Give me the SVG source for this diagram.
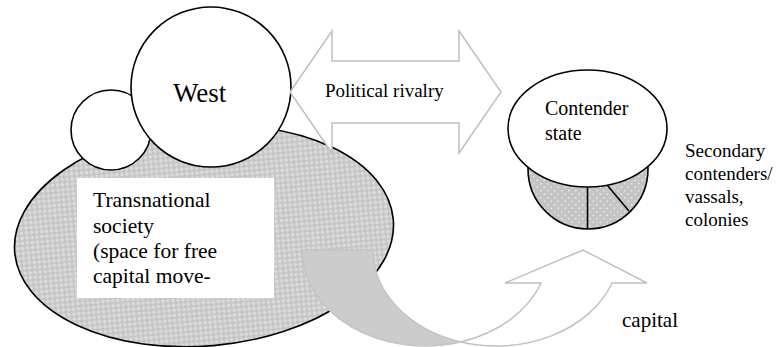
<svg xmlns="http://www.w3.org/2000/svg" width="778" height="347" viewBox="0 0 778 347">
  <defs>
    <pattern id="hatch" width="5" height="5" patternUnits="userSpaceOnUse">
      <rect width="5" height="5" fill="#c6c6c6"/>
      <path d="M2.5,0.6 L4.4,2.5 L2.5,4.4 L0.6,2.5 Z" fill="#e4e4e4"/>
      <circle cx="2.5" cy="2.5" r="0.5" fill="#c6c6c6"/>
    </pattern>
    <pattern id="dots" width="7" height="7" patternUnits="userSpaceOnUse">
      <rect width="7" height="7" fill="#c4c4c4"/>
      <circle cx="1.75" cy="1.75" r="0.8" fill="#f2f2f2"/>
      <circle cx="5.25" cy="5.25" r="0.8" fill="#f2f2f2"/>
    </pattern>
  </defs>
  <style>
    .blk { stroke: #000; stroke-width: 1.6; }
    .gline { stroke: #c0c0c0; stroke-width: 1.5; fill: #fff; stroke-linejoin: miter; }
    .txt { font-family: 'Liberation Serif', 'Times New Roman', serif; fill: #000; }
  </style>

  <g id="transnational-society">
    <ellipse cx="204" cy="236" rx="190" ry="110" transform="rotate(-5 204 236)" fill="url(#hatch)" class="blk" stroke-width="2"/>
  </g>

  <g id="small-circle">
    <circle cx="111" cy="130" r="40" fill="#fff" class="blk"/>
  </g>

  <g id="west">
    <circle cx="211" cy="87" r="80" fill="#fff" class="blk"/>
    <text class="txt" x="173" y="102" font-size="27">West</text>
  </g>

  <g id="society-label">
    <rect x="77" y="178" width="197" height="120" fill="#fff"/>
    <text class="txt" font-size="21.5">
      <tspan x="93" y="207">Transnational</tspan>
      <tspan x="93" y="233">society</tspan>
      <tspan x="93" y="258">(space for free</tspan>
      <tspan x="93" y="283">capital move-</tspan>
    </text>
  </g>

  <g id="contender">
    <circle cx="588" cy="169" r="60" fill="url(#dots)" class="blk"/>
    <line x1="587.5" y1="186" x2="587.5" y2="229" class="blk"/>
    <line x1="607" y1="185" x2="629" y2="211" class="blk"/>
    <ellipse cx="587.5" cy="128.5" rx="79.5" ry="58.5" fill="#fff" class="blk"/>
    <text class="txt" font-size="20">
      <tspan x="545" y="115">Contender</tspan>
      <tspan x="545" y="140">state</tspan>
    </text>
  </g>

  <g id="secondary-label">
    <text class="txt" font-size="19">
      <tspan x="685" y="157">Secondary</tspan>
      <tspan x="685" y="180">contenders/</tspan>
      <tspan x="685" y="203">vassals,</tspan>
      <tspan x="685" y="226">colonies</tspan>
    </text>
  </g>

  <g id="connectors">
    <g id="political-rivalry">
      <path class="gline" d="M290,92 L332,31 L332,61 L459,61 L459,31 L501,92 L459,153 L459,123 L332,123 L332,153 Z"/>
      <text class="txt" x="325" y="97" font-size="19">Political rivalry</text>
    </g>
    <g id="capital-flow">
      <path d="M302,250 A123.3,96 0 0 0 460.8,341.9 A123.3,96 0 0 1 373,250 Z" fill="#cccccc" stroke="#c4c4c4" stroke-width="1.5"/>
      <path class="gline" d="M460.8,341.9 A123.3,96 0 0 0 612.1,283 L647,283 L583,250 L505,283 L541.1,283 A123.3,96 0 0 1 460.8,341.9 Z"/>
      <text class="txt" x="622" y="327" font-size="21">capital</text>
    </g>
  </g>
</svg>
